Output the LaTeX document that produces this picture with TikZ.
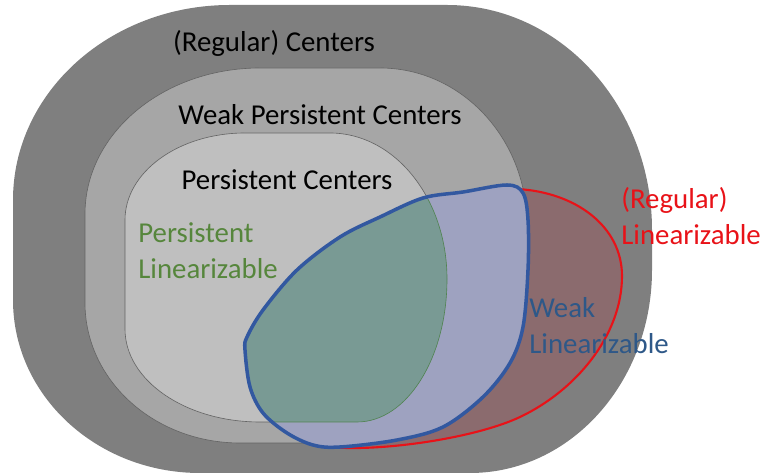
\documentclass[tikz,border=0pt]{standalone}
\usepackage{fontspec}
\setmainfont{Carlito}
\usetikzlibrary{calc}

\definecolor{outergray}{RGB}{127,127,127}
\definecolor{midgray}{RGB}{166,166,166}
\definecolor{innergray}{RGB}{191,191,191}
\definecolor{edgegray}{RGB}{100,100,100}
\definecolor{lavender}{RGB}{158,162,192}
\definecolor{tealfill}{RGB}{121,154,148}
\definecolor{brownfill}{RGB}{139,107,110}
\definecolor{linred}{RGB}{232,18,24}
\definecolor{linblue}{RGB}{50,88,160}
\definecolor{txtblue}{RGB}{46,88,136}
\definecolor{txtgreen}{RGB}{86,134,60}

\newcommand{\outerblob}{(13,276) arc[start angle=180,end angle=90,x radius=217,y radius=195] -- (447,471)
  arc[start angle=90,end angle=0,x radius=205,y radius=225] -- (652,206)
  arc[start angle=0,end angle=-90,x radius=182,y radius=203] -- (200,3)
  arc[start angle=-90,end angle=-180,x radius=187,y radius=173] -- cycle}
\newcommand{\midblob}{(85,262) arc[start angle=180,end angle=90,x radius=175,y radius=146] -- (380,408)
  arc[start angle=90,end angle=0,x radius=147,y radius=157] -- (527,173)
  arc[start angle=0,end angle=-90,x radius=147,y radius=140] -- (240,33)
  arc[start angle=-90,end angle=-180,x radius=155,y radius=140] -- cycle}
\newcommand{\innerblob}{(125,256) arc[start angle=180,end angle=90,x radius=120,y radius=87] -- (330,343)
  arc[start angle=90,end angle=0,x radius=117,y radius=146]
  arc[start angle=0,end angle=-90,x radius=90,y radius=143] -- (260,54)
  arc[start angle=-90,end angle=-180,x radius=135,y radius=93] -- cycle}
\newcommand{\blueblob}{plot[smooth cycle,tension=0.55] coordinates {(463,284) (507,291) (523,283) (528,256)
  (528,206) (523,149) (510,113) (483,79) (443,49) (397,36) (340,29) (313,31) (287,43) (263,63)
  (250,89) (245,126) (247,139) (263,166) (297,206) (340,239) (380,259) (423,278)}}
\newcommand{\redblob}{(517,287) .. controls (575,284) and (622,250) .. (622,200)
  .. controls (622,140) and (575,85) .. (520,59)
  .. controls (480,40) and (400,27) .. (347,28)
  .. controls (310,29) and (285,40) .. (280,60) -- (330,200) -- (480,280)
  .. controls (495,284) .. cycle}

\begin{document}
\begin{tikzpicture}[x=0.02cm,y=0.02cm,
    setlabel/.style={font=\fontsize{16.4}{20.4}\selectfont,inner sep=0pt},
    thinedge/.style={draw=edgegray,line width=0.35pt}]
  \useasboundingbox (0,0) rectangle (764,476);

  % nested centers
  \fill[outergray] \outerblob;
  \fill[midgray,thinedge] \midblob;
  \fill[innergray,thinedge] \innerblob;

  % linearizable sets
  \filldraw[fill=brownfill,draw=linred,line width=1.2pt] \redblob;
  \fill[lavender] \blueblob;
  \begin{scope}
    \clip \blueblob;
    \filldraw[fill=tealfill,draw=edgegray!80!green,line width=0.35pt] \innerblob;
  \end{scope}
  \draw[linblue,line width=2pt] \blueblob;

  \node[setlabel] (regcent) at (274,433) {(Regular) Centers};
  \node[setlabel] (weakcent) at (320,361) {Weak Persistent Centers};
  \node[setlabel] (perscent) at (287,296) {Persistent Centers};
  \node[setlabel,align=left,anchor=west,text=txtgreen] (perslin) at (138,225) {Persistent\\Linearizable};
  \node[setlabel,align=left,anchor=west,text=linred] (reglin) at (621,260) {(Regular)\\Linearizable};
  \node[setlabel,align=left,anchor=west,text=txtblue] (weaklin) at (529,150) {Weak\\Linearizable};
\end{tikzpicture}
\end{document}
